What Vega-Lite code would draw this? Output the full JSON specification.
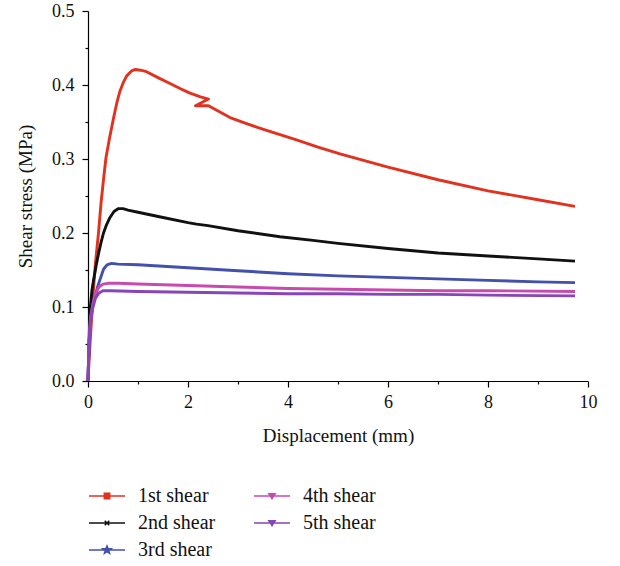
{
  "$schema": "https://vega.github.io/schema/vega-lite/v6.json",
  "width": 500,
  "height": 370,
  "autosize": {"type": "none"},
  "padding": {"left": 88, "top": 11, "right": 32, "bottom": 185},
  "background": "white",
  "config": {
    "view": {"stroke": null},
    "axis": {"grid": false, "labelFlush": false, "domainColor": "#000", "tickColor": "#000", "labelFont": "Liberation Serif", "labelFontSize": 18, "labelColor": "#111", "titleFont": "Liberation Serif", "titleFontSize": 19, "titleFontWeight": "normal", "titleColor": "#111", "domainWidth": 1.2, "tickWidth": 1.2}
  },
  "data": {"values": [
    {"s":"1st shear","x":0,"y":0},{"s":"1st shear","x":0.04,"y":0.05},{"s":"1st shear","x":0.08,"y":0.093},{"s":"1st shear","x":0.11,"y":0.125},{"s":"1st shear","x":0.15,"y":0.16},{"s":"1st shear","x":0.21,"y":0.2},{"s":"1st shear","x":0.26,"y":0.24},{"s":"1st shear","x":0.31,"y":0.272},{"s":"1st shear","x":0.36,"y":0.302},{"s":"1st shear","x":0.43,"y":0.328},{"s":"1st shear","x":0.51,"y":0.355},{"s":"1st shear","x":0.58,"y":0.377},{"s":"1st shear","x":0.64,"y":0.392},{"s":"1st shear","x":0.71,"y":0.404},{"s":"1st shear","x":0.77,"y":0.412},{"s":"1st shear","x":0.87,"y":0.419},{"s":"1st shear","x":0.95,"y":0.421},{"s":"1st shear","x":1.05,"y":0.42},{"s":"1st shear","x":1.17,"y":0.418},{"s":"1st shear","x":1.4,"y":0.41},{"s":"1st shear","x":1.64,"y":0.402},{"s":"1st shear","x":1.85,"y":0.395},{"s":"1st shear","x":2.04,"y":0.389},{"s":"1st shear","x":2.25,"y":0.384},{"s":"1st shear","x":2.41,"y":0.381},{"s":"1st shear","x":2.15,"y":0.372},{"s":"1st shear","x":2.41,"y":0.372},{"s":"1st shear","x":2.84,"y":0.356},{"s":"1st shear","x":3.2,"y":0.347},{"s":"1st shear","x":3.51,"y":0.34},{"s":"1st shear","x":4.17,"y":0.326},{"s":"1st shear","x":4.6,"y":0.316},{"s":"1st shear","x":5.04,"y":0.307},{"s":"1st shear","x":6,"y":0.289},{"s":"1st shear","x":7,"y":0.272},{"s":"1st shear","x":8,"y":0.257},{"s":"1st shear","x":9,"y":0.245},{"s":"1st shear","x":9.74,"y":0.236},
    {"s":"2nd shear","x":0,"y":0},{"s":"2nd shear","x":0.02,"y":0.05},{"s":"2nd shear","x":0.04,"y":0.095},{"s":"2nd shear","x":0.08,"y":0.123},{"s":"2nd shear","x":0.11,"y":0.136},{"s":"2nd shear","x":0.16,"y":0.155},{"s":"2nd shear","x":0.21,"y":0.172},{"s":"2nd shear","x":0.26,"y":0.187},{"s":"2nd shear","x":0.31,"y":0.2},{"s":"2nd shear","x":0.37,"y":0.211},{"s":"2nd shear","x":0.44,"y":0.221},{"s":"2nd shear","x":0.52,"y":0.229},{"s":"2nd shear","x":0.61,"y":0.233},{"s":"2nd shear","x":0.7,"y":0.233},{"s":"2nd shear","x":0.8,"y":0.231},{"s":"2nd shear","x":1.0,"y":0.228},{"s":"2nd shear","x":1.5,"y":0.221},{"s":"2nd shear","x":2.0,"y":0.214},{"s":"2nd shear","x":2.17,"y":0.212},{"s":"2nd shear","x":2.4,"y":0.21},{"s":"2nd shear","x":3,"y":0.203},{"s":"2nd shear","x":3.84,"y":0.195},{"s":"2nd shear","x":4.5,"y":0.19},{"s":"2nd shear","x":5,"y":0.186},{"s":"2nd shear","x":6,"y":0.179},{"s":"2nd shear","x":7,"y":0.173},{"s":"2nd shear","x":8,"y":0.169},{"s":"2nd shear","x":9,"y":0.165},{"s":"2nd shear","x":9.74,"y":0.162},
    {"s":"3rd shear","x":0,"y":0},{"s":"3rd shear","x":0.02,"y":0.05},{"s":"3rd shear","x":0.05,"y":0.085},{"s":"3rd shear","x":0.09,"y":0.1},{"s":"3rd shear","x":0.14,"y":0.114},{"s":"3rd shear","x":0.19,"y":0.127},{"s":"3rd shear","x":0.24,"y":0.137},{"s":"3rd shear","x":0.31,"y":0.151},{"s":"3rd shear","x":0.38,"y":0.157},{"s":"3rd shear","x":0.47,"y":0.159},{"s":"3rd shear","x":0.6,"y":0.158},{"s":"3rd shear","x":1,"y":0.157},{"s":"3rd shear","x":2,"y":0.153},{"s":"3rd shear","x":3,"y":0.149},{"s":"3rd shear","x":4,"y":0.145},{"s":"3rd shear","x":5,"y":0.142},{"s":"3rd shear","x":6,"y":0.14},{"s":"3rd shear","x":7,"y":0.138},{"s":"3rd shear","x":8,"y":0.136},{"s":"3rd shear","x":9,"y":0.134},{"s":"3rd shear","x":9.74,"y":0.133},
    {"s":"4th shear","x":0,"y":0},{"s":"4th shear","x":0.02,"y":0.05},{"s":"4th shear","x":0.05,"y":0.085},{"s":"4th shear","x":0.1,"y":0.105},{"s":"4th shear","x":0.15,"y":0.118},{"s":"4th shear","x":0.22,"y":0.127},{"s":"4th shear","x":0.3,"y":0.131},{"s":"4th shear","x":0.4,"y":0.132},{"s":"4th shear","x":0.6,"y":0.132},{"s":"4th shear","x":1,"y":0.131},{"s":"4th shear","x":2,"y":0.129},{"s":"4th shear","x":3,"y":0.127},{"s":"4th shear","x":4,"y":0.125},{"s":"4th shear","x":5,"y":0.124},{"s":"4th shear","x":6,"y":0.123},{"s":"4th shear","x":7,"y":0.122},{"s":"4th shear","x":8,"y":0.122},{"s":"4th shear","x":9.74,"y":0.121},
    {"s":"5th shear","x":0,"y":0},{"s":"5th shear","x":0.02,"y":0.05},{"s":"5th shear","x":0.05,"y":0.08},{"s":"5th shear","x":0.1,"y":0.1},{"s":"5th shear","x":0.15,"y":0.112},{"s":"5th shear","x":0.22,"y":0.119},{"s":"5th shear","x":0.3,"y":0.122},{"s":"5th shear","x":0.45,"y":0.122},{"s":"5th shear","x":1,"y":0.121},{"s":"5th shear","x":2,"y":0.12},{"s":"5th shear","x":3,"y":0.119},{"s":"5th shear","x":4,"y":0.118},{"s":"5th shear","x":5,"y":0.118},{"s":"5th shear","x":6,"y":0.117},{"s":"5th shear","x":7,"y":0.117},{"s":"5th shear","x":8,"y":0.116},{"s":"5th shear","x":9.74,"y":0.115}
  ]},
  "resolve": {"axis": {"x": "independent", "y": "independent"}},
  "layer": [
    {
      "mark": {"type": "line", "strokeWidth": 2.9, "strokeJoin": "round", "interpolate": "linear"},
      "encoding": {
        "x": {"field": "x", "type": "quantitative", "scale": {"domain": [0, 10], "nice": false, "zero": false}, "axis": {"orient": "bottom", "values": [0, 2, 4, 6, 8, 10], "format": "d", "title": "Displacement (mm)", "tickSize": 6, "labelPadding": 6, "titlePadding": 15}},
        "y": {"field": "y", "type": "quantitative", "scale": {"domain": [0, 0.5], "nice": false}, "axis": {"orient": "left", "values": [0, 0.1, 0.2, 0.3, 0.4, 0.5], "format": ".1f", "title": "Shear stress (MPa)", "tickSize": 6, "labelPadding": 8, "titlePadding": 16}},
        "color": {"field": "s", "type": "nominal", "title": null, "scale": {"domain": ["1st shear", "2nd shear", "3rd shear", "4th shear", "5th shear"], "range": ["#e2321f", "#111111", "#4350ac", "#c94aae", "#8645b8"]}, "legend": {"orient": "none", "legendX": 9, "legendY": 475, "columns": 2, "columnPadding": 35, "rowPadding": 7, "labelFont": "Liberation Serif", "labelFontSize": 20, "labelColor": "#111", "labelOffset": 21, "symbolSize": 324, "symbolOpacity": 1, "symbolStrokeWidth": 1.5, "title": null}},
        "order": {"value": null}
      }
    },
    {
      "mark": {"type": "point", "opacity": 0, "filled": true},
      "encoding": {
        "x": {"field": "x", "type": "quantitative", "axis": {"orient": "bottom", "values": [1, 3, 5, 7, 9], "labels": false, "domain": false, "title": null, "tickSize": 3}},
        "y": {"field": "y", "type": "quantitative", "axis": {"orient": "left", "values": [0.05, 0.15, 0.25, 0.35, 0.45], "labels": false, "domain": false, "title": null, "tickSize": 3}},
        "color": {"field": "s", "type": "nominal", "title": null},
        "shape": {"field": "s", "type": "nominal", "title": null, "scale": {"domain": ["1st shear", "2nd shear", "3rd shear", "4th shear", "5th shear"], "range": ["M-2,0H2M-0.3,-0.3H0.3V0.3H-0.3Z", "M-2,0H2M-0.25,-0.25L0.25,0.25M-0.25,0.25L0.25,-0.25", "M-2,0H2M0,-0.45L0.13,-0.14L0.45,-0.14L0.19,0.06L0.28,0.37L0,0.18L-0.28,0.37L-0.19,0.06L-0.45,-0.14L-0.13,-0.14Z", "M-2,0H2M-0.35,-0.25H0.35L0,0.3Z", "M-2,0H2M-0.35,-0.25H0.35L0,0.3Z"]}, "legend": {"orient": "none", "legendX": 9, "legendY": 475, "columns": 2, "columnPadding": 35, "rowPadding": 7, "labelFont": "Liberation Serif", "labelFontSize": 20, "labelColor": "#111", "labelOffset": 21, "symbolSize": 324, "symbolOpacity": 1, "symbolStrokeWidth": 1.5, "title": null}}
      }
    }
  ]
}
